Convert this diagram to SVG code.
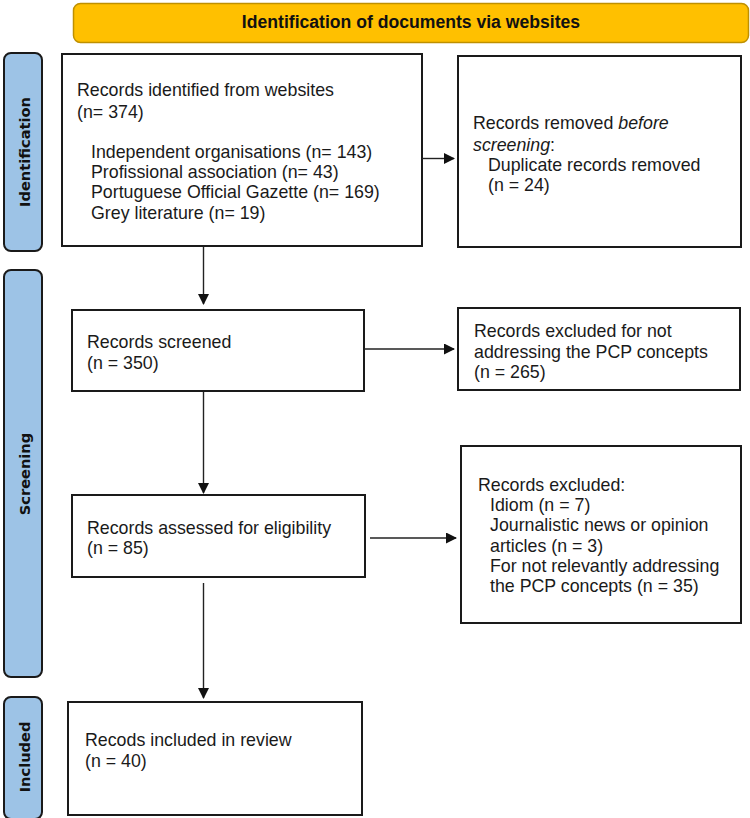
<svg xmlns="http://www.w3.org/2000/svg" width="750" height="818" viewBox="0 0 750 818">
<defs>
<marker id="ah" markerWidth="11" markerHeight="11" refX="10" refY="5.5" orient="auto" markerUnits="userSpaceOnUse">
<path d="M0,0 L11,5.5 L0,11 Z" fill="#111"/>
</marker>
<style>
.box{fill:#fff;stroke:#1a1a1a;stroke-width:2}
.side{fill:#9dc3e6;stroke:#1a1a1a;stroke-width:2}
.t{font-family:"Liberation Sans",Arial,sans-serif;font-size:17.8px;fill:#1a1a1a}
.s{font-family:"DejaVu Sans",Verdana,sans-serif;font-size:14.6px;font-weight:bold;fill:#111;text-anchor:middle;dominant-baseline:central}
.c{stroke:#222;stroke-width:1.4;fill:none;marker-end:url(#ah)}
</style>
</defs>
<rect width="750" height="818" fill="#fff"/>
<g id="header">
<rect x="73.5" y="3.5" width="675" height="39" rx="7" fill="#ffc000" stroke="#bf9000" stroke-width="1.5"/>
<text x="411" y="28" font-family="Liberation Sans,Arial,sans-serif" font-size="17.6px" font-weight="bold" fill="#111" text-anchor="middle">Identification of documents via websites</text>
</g>
<g id="side-identification">
<rect class="side" x="4" y="53" width="38" height="198" rx="7"/>
<text class="s" transform="translate(24,152) rotate(-90)">Identification</text>
</g>
<g id="side-screening">
<rect class="side" x="4" y="270" width="38" height="407" rx="7"/>
<text class="s" transform="translate(24,474) rotate(-90)">Screening</text>
</g>
<g id="side-included">
<rect class="side" x="4" y="697" width="38" height="122" rx="7"/>
<text class="s" transform="translate(24,757) rotate(-90)">Included</text>
</g>
<g id="identified">
<rect class="box" x="62" y="54" width="360" height="192"/>
<text class="t" x="77" y="96">Records identified from websites</text>
<text class="t" x="77" y="118">(n= 374)</text>
<text class="t" x="91" y="158">Independent organisations (n= 143)</text>
<text class="t" x="91" y="177.5">Profissional association (n= 43)</text>
<text class="t" x="91" y="198">Portuguese Official Gazette (n= 169)</text>
<text class="t" x="91" y="218.5">Grey literature (n= 19)</text>
</g>
<g id="removed">
<rect class="box" x="458" y="56" width="283" height="191"/>
<text class="t" x="473" y="129">Records removed <tspan font-style="italic">before</tspan></text>
<text class="t" x="473" y="150.5"><tspan font-style="italic">screening</tspan>:</text>
<text class="t" x="488" y="170.5">Duplicate records removed</text>
<text class="t" x="488" y="191">(n = 24)</text>
</g>
<g id="screened">
<rect class="box" x="72" y="310" width="292" height="81"/>
<text class="t" x="87" y="348">Records screened</text>
<text class="t" x="87" y="369">(n = 350)</text>
</g>
<g id="excluded1">
<rect class="box" x="458" y="308" width="282" height="82"/>
<text class="t" x="474" y="337">Records excluded for not</text>
<text class="t" x="474" y="358">addressing the PCP concepts</text>
<text class="t" x="474" y="378">(n = 265)</text>
</g>
<g id="eligibility">
<rect class="box" x="72" y="495" width="293" height="82"/>
<text class="t" x="87" y="534">Records assessed for eligibility</text>
<text class="t" x="87" y="554">(n = 85)</text>
</g>
<g id="excluded2">
<rect class="box" x="461" y="446" width="280" height="177"/>
<text class="t" x="478" y="491">Records excluded:</text>
<text class="t" x="490" y="511">Idiom (n = 7)</text>
<text class="t" x="490" y="531">Journalistic news or opinion</text>
<text class="t" x="490" y="551.5">articles (n = 3)</text>
<text class="t" x="490" y="571.5">For not relevantly addressing</text>
<text class="t" x="490" y="592">the PCP concepts (n = 35)</text>
</g>
<g id="included">
<rect class="box" x="68" y="702" width="294" height="113"/>
<text class="t" x="85" y="746">Recods included in review</text>
<text class="t" x="85" y="767">(n = 40)</text>
</g>
<g id="connectors">
<line class="c" x1="422" y1="158.5" x2="454" y2="158.5"/>
<line class="c" x1="203.5" y1="247" x2="203.5" y2="304"/>
<line class="c" x1="364" y1="349" x2="454" y2="349"/>
<line class="c" x1="203.5" y1="392" x2="203.5" y2="493"/>
<line class="c" x1="370" y1="538" x2="456" y2="538"/>
<line class="c" x1="203.5" y1="583" x2="203.5" y2="698"/>
</g>
</svg>
